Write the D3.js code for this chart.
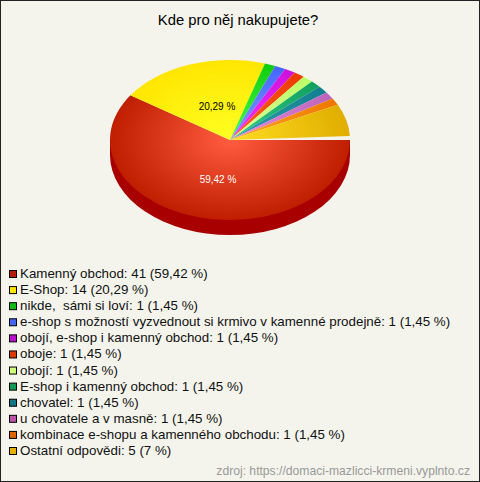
<!DOCTYPE html>
<html>
<head>
<meta charset="utf-8">
<script src="https://cdn.jsdelivr.net/npm/d3@7"></script>
<style>
  html, body { margin: 0; padding: 0; background: #f4f4ec; }
  svg { display: block; }
  text { font-family: "Liberation Sans", Arial, sans-serif; }
</style>
</head>
<body>
<div id="chart"></div>
<script>
const WIDTH = 480;
const HEIGHT = 482;
const CENTER = { x: 230, y: 140 };
const RADIUS = 120;
const TILT = 80 / 120;
const DEPTH = 15;
const LAST_GAP = 2 * Math.PI / 180; // light sliver before the red slice

const categories = [
  'Kamenný obchod', 'E-Shop', 'nikde,  sámi si loví',
  'e-shop s možností vyzvednout si krmivo v kamenné prodejně',
  'obojí, e-shop i kamenný obchod', 'oboje', 'obojí',
  'E-shop i kamenný obchod', 'chovatel', 'u chovatele a v masně',
  'kombinace e-shopu a kamenného obchodu', 'Ostatní odpovědi'
];
const counts = [41, 14, 1, 1, 1, 1, 1, 1, 1, 1, 1, 5];
const percents = [59.42, 20.29, 1.45, 1.45, 1.45, 1.45, 1.45, 1.45, 1.45, 1.45, 1.45, 7];
const percentLabels = ['59,42', '20,29', '1,45', '1,45', '1,45', '1,45', '1,45', '1,45', '1,45', '1,45', '1,45', '7'];

const innerColors = ['#ff5c40', '#ffff22', '#44ff44', '#7f9bff', '#ff33ff', '#ff6622', '#ddff99', '#33cc88', '#339fb0', '#ee88dd', '#ffaa22', '#ffdd22'];
const outerColors = ['#c01e00', '#ffe600', '#11cc11', '#4466ff', '#cc11dd', '#ee3a00', '#bbff66', '#11a060', '#117f90', '#bb66bb', '#ee7700', '#e0ae00'];
const swatchColors = ['#b81c00', '#ffe600', '#11bb11', '#4466ee', '#bb11cc', '#dd3a00', '#ccff77', '#119955', '#117788', '#bb55aa', '#dd6600', '#e6b000'];

const svg = d3.select('#chart').append('svg')
    .attr('width', WIDTH)
    .attr('height', HEIGHT);

svg.append('rect')
    .attr('x', 0.5).attr('y', 0.5)
    .attr('width', WIDTH - 1).attr('height', HEIGHT - 1)
    .attr('fill', '#f4f4ec')
    .attr('stroke', '#222');

svg.append('text')
    .attr('x', 238).attr('y', 25)
    .attr('text-anchor', 'middle')
    .attr('font-size', 14.8)
    .attr('fill', '#000')
    .text('Kde pro něj nakupujete?');

// slices run clockwise from three o'clock
const angle = d3.scaleLinear().domain([0, 100]).range([Math.PI / 2, Math.PI / 2 + 2 * Math.PI]);
let running = 0;
const slices = percents.map((p, i) => {
  const s = { i, startAngle: angle(running), endAngle: angle(running + p) };
  running += p;
  return s;
});
slices[slices.length - 1].endAngle -= LAST_GAP;

const arc = d3.arc().innerRadius(0).outerRadius(RADIUS);

const defs = svg.append('defs');
slices.forEach(s => {
  const grad = defs.append('radialGradient')
      .attr('id', `slice-${s.i}`)
      .attr('gradientUnits', 'userSpaceOnUse')
      .attr('cx', 0).attr('cy', 0).attr('r', RADIUS);
  grad.append('stop').attr('offset', '0%').attr('stop-color', innerColors[s.i]);
  grad.append('stop').attr('offset', '100%').attr('stop-color', outerColors[s.i]);
});

// side wall under the red slice
const wall = svg.append('g')
    .attr('transform', `translate(${CENTER.x},${CENTER.y})`)
    .attr('fill', '#a80000');
wall.append('path')
    .attr('transform', `translate(0,${DEPTH}) scale(1,${TILT})`)
    .attr('d', arc({ startAngle: Math.PI / 2, endAngle: 3 * Math.PI / 2 }));
wall.append('rect')
    .attr('x', -RADIUS).attr('y', 0)
    .attr('width', 2 * RADIUS).attr('height', DEPTH + 0.5);

const pie = svg.append('g')
    .attr('transform', `translate(${CENTER.x},${CENTER.y}) scale(1,${TILT})`);

pie.selectAll('path')
  .data(slices)
  .join('path')
    .attr('d', arc)
    .attr('fill', d => `url(#slice-${d.i})`);

svg.append('text')
    .attr('x', 217).attr('y', 110)
    .attr('text-anchor', 'middle')
    .attr('font-size', 10)
    .attr('fill', '#000')
    .text(`${percentLabels[1]} %`);

svg.append('text')
    .attr('x', 218).attr('y', 183)
    .attr('text-anchor', 'middle')
    .attr('font-size', 10)
    .attr('fill', '#fff')
    .text(`${percentLabels[0]} %`);

// legend
const rowY = d3.scalePoint().domain(d3.range(categories.length)).range([273.5, 450.5]);

const rows = svg.append('g').selectAll('g')
  .data(categories)
  .join('g')
    .attr('transform', (d, i) => `translate(0,${rowY(i)})`);

rows.append('rect')
    .attr('x', 9.5).attr('y', -3)
    .attr('width', 7).attr('height', 7)
    .attr('fill', (d, i) => swatchColors[i])
    .attr('stroke', '#000');

rows.append('text')
    .attr('x', 20).attr('y', 4.5)
    .attr('font-size', 13.35)
    .attr('fill', '#111')
    .style('white-space', 'pre')
    .text((d, i) => `${d}: ${counts[i]} (${percentLabels[i]} %)`);

svg.append('text')
    .attr('x', 470).attr('y', 475)
    .attr('text-anchor', 'end')
    .attr('font-size', 12.15)
    .attr('fill', '#999')
    .text('zdroj: https://domaci-mazlicci-krmeni.vyplnto.cz');
</script>
</body>
</html>
